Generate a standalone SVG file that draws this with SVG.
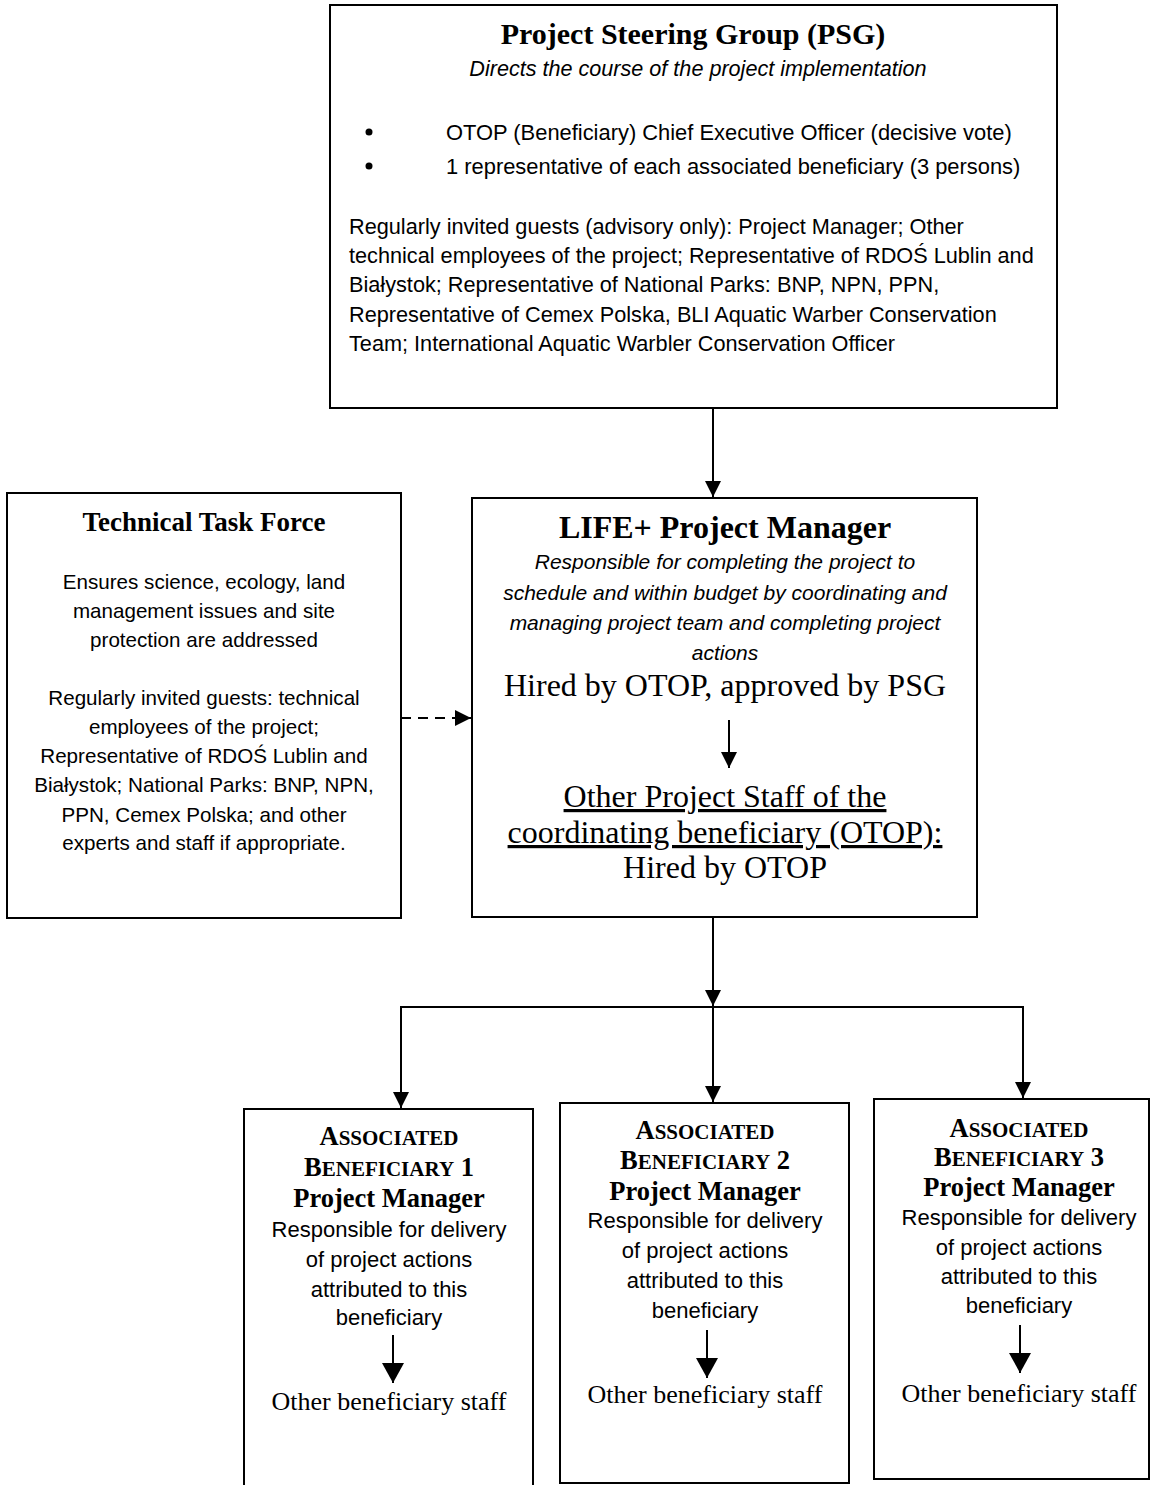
<svg xmlns="http://www.w3.org/2000/svg" width="1151" height="1485" viewBox="0 0 1151 1485">
<style>
.box{fill:#fff;stroke:#000;stroke-width:2}
.ln{fill:none;stroke:#000;stroke-width:2}
.dash{stroke-dasharray:10 7}
.serif{font-family:"Liberation Serif","Times New Roman",serif;fill:#000}
.sans{font-family:"Liberation Sans",Arial,sans-serif;fill:#000}
.b{font-weight:bold}
.i{font-style:italic}
.c{text-anchor:middle}
.u{text-decoration:underline}
</style>
<defs>
<marker id="ah" markerWidth="16" markerHeight="16" refX="16" refY="8" orient="auto" markerUnits="userSpaceOnUse"><path d="M0,0 L16,8 L0,16 z" fill="#000"/></marker>
<marker id="ahB" markerWidth="20" markerHeight="22" refX="20" refY="11" orient="auto" markerUnits="userSpaceOnUse"><path d="M0,0 L20,11 L0,22 z" fill="#000"/></marker>
</defs>
<rect x="0" y="0" width="1151" height="1485" fill="#fff"/>

<g id="psg">
<rect class="box" x="330" y="5" width="727" height="403"/>
<text class="serif b c" x="693" y="44" font-size="30">Project Steering Group (PSG)</text>
<text class="sans i c" x="698" y="76" font-size="21.6">Directs the course of the project implementation</text>
<circle cx="369" cy="132" r="3.5" fill="#000"/>
<circle cx="369" cy="166" r="3.5" fill="#000"/>
<text class="sans" x="446" y="140" font-size="21.9">OTOP (Beneficiary) Chief Executive Officer (decisive vote)</text>
<text class="sans" x="446" y="174" font-size="21.9">1 representative of each associated beneficiary (3 persons)</text>
<g class="sans" font-size="21.7">
<text x="349" y="234">Regularly invited guests (advisory only): Project Manager; Other</text>
<text x="349" y="263">technical employees of the project; Representative of RDOŚ Lublin and</text>
<text x="349" y="292">Białystok; Representative of National Parks: BNP, NPN, PPN,</text>
<text x="349" y="322">Representative of Cemex Polska, BLI Aquatic Warber Conservation</text>
<text x="349" y="351">Team; International Aquatic Warbler Conservation Officer</text>
</g>
</g>

<g id="ttf">
<rect class="box" x="7" y="493" width="394" height="425"/>
<text class="serif b c" x="204" y="531" font-size="27">Technical Task Force</text>
<g class="sans c" font-size="20.6">
<text x="204" y="589">Ensures science, ecology, land</text>
<text x="204" y="618">management issues and site</text>
<text x="204" y="647">protection are addressed</text>
<text x="204" y="705">Regularly invited guests: technical</text>
<text x="204" y="734">employees of the project;</text>
<text x="204" y="763">Representative of RDOŚ Lublin and</text>
<text x="204" y="792">Białystok; National Parks: BNP, NPN,</text>
<text x="204" y="822">PPN, Cemex Polska; and other</text>
<text x="204" y="850">experts and staff if appropriate.</text>
</g>
</g>

<g id="life">
<rect class="box" x="472" y="498" width="505" height="419"/>
<text class="serif b c" x="725" y="538" font-size="32">LIFE+ Project Manager</text>
<g class="sans i c" font-size="21">
<text x="725" y="569">Responsible for completing the project to</text>
<text x="725" y="600">schedule and within budget by coordinating and</text>
<text x="725" y="630">managing project team and completing project</text>
<text x="725" y="660">actions</text>
</g>
<text class="serif c" x="725" y="696" font-size="32">Hired by OTOP, approved by PSG</text>
<line class="ln" x1="729" y1="720" x2="729" y2="768" marker-end="url(#ah)"/>
<text class="serif c u" x="725" y="807" font-size="32">Other Project Staff of the</text>
<text class="serif c u" x="725" y="843" font-size="32">coordinating beneficiary (OTOP):</text>
<text class="serif c" x="725" y="878" font-size="32">Hired by OTOP</text>
</g>

<g id="ab1">
<rect class="box" x="244" y="1109" width="289" height="385"/>
<text class="serif b c" x="389" y="1145" font-size="26.5">A<tspan font-size="21">SSOCIATED</tspan></text>
<text class="serif b c" x="389" y="1176" font-size="26.5">B<tspan font-size="21">ENEFICIARY</tspan> 1</text>
<text class="serif b c" x="389" y="1207" font-size="26.5">Project Manager</text>
<g class="sans c" font-size="22">
<text x="389" y="1237">Responsible for delivery</text>
<text x="389" y="1267">of project actions</text>
<text x="389" y="1297">attributed to this</text>
<text x="389" y="1325">beneficiary</text>
</g>
<line class="ln" x1="393" y1="1335" x2="393" y2="1383" marker-end="url(#ahB)"/>
<text class="serif c" x="389" y="1410" font-size="26">Other beneficiary staff</text>
</g>

<g id="ab2">
<rect class="box" x="560" y="1103" width="289" height="380"/>
<text class="serif b c" x="705" y="1139" font-size="26.5">A<tspan font-size="21">SSOCIATED</tspan></text>
<text class="serif b c" x="705" y="1169" font-size="26.5">B<tspan font-size="21">ENEFICIARY</tspan> 2</text>
<text class="serif b c" x="705" y="1200" font-size="26.5">Project Manager</text>
<g class="sans c" font-size="22">
<text x="705" y="1228">Responsible for delivery</text>
<text x="705" y="1258">of project actions</text>
<text x="705" y="1288">attributed to this</text>
<text x="705" y="1318">beneficiary</text>
</g>
<line class="ln" x1="707" y1="1330" x2="707" y2="1378" marker-end="url(#ahB)"/>
<text class="serif c" x="705" y="1403" font-size="26">Other beneficiary staff</text>
</g>

<g id="ab3">
<rect class="box" x="874" y="1099" width="275" height="380"/>
<text class="serif b c" x="1019" y="1137" font-size="26.5">A<tspan font-size="21">SSOCIATED</tspan></text>
<text class="serif b c" x="1019" y="1166" font-size="26.5">B<tspan font-size="21">ENEFICIARY</tspan> 3</text>
<text class="serif b c" x="1019" y="1196" font-size="26.5">Project Manager</text>
<g class="sans c" font-size="22">
<text x="1019" y="1225">Responsible for delivery</text>
<text x="1019" y="1255">of project actions</text>
<text x="1019" y="1284">attributed to this</text>
<text x="1019" y="1313">beneficiary</text>
</g>
<line class="ln" x1="1020" y1="1325" x2="1020" y2="1373" marker-end="url(#ahB)"/>
<text class="serif c" x="1019" y="1402" font-size="26">Other beneficiary staff</text>
</g>

<g id="connectors">
<line class="ln" x1="713" y1="408" x2="713" y2="497" marker-end="url(#ah)"/>
<line class="ln dash" x1="401" y1="718" x2="471" y2="718" marker-end="url(#ah)"/>
<line class="ln" x1="713" y1="917" x2="713" y2="1006" marker-end="url(#ah)"/>
<polyline class="ln" points="401,1108 401,1007 1023,1007 1023,1098"/>
<line class="ln" x1="401" y1="1007" x2="401" y2="1108" marker-end="url(#ah)"/>
<line class="ln" x1="713" y1="1007" x2="713" y2="1102" marker-end="url(#ah)"/>
<line class="ln" x1="1023" y1="1007" x2="1023" y2="1098" marker-end="url(#ah)"/>
</g>
</svg>
